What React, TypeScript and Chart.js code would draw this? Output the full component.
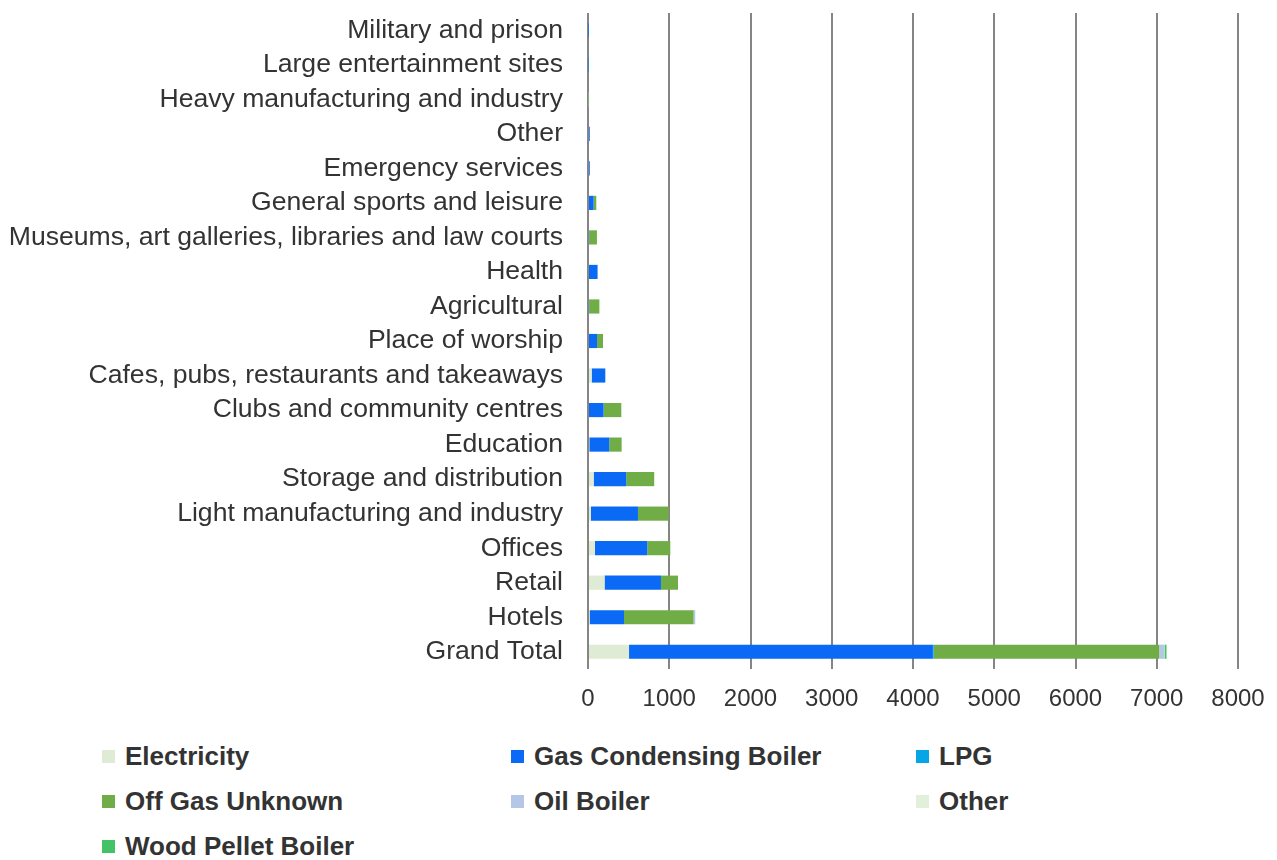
import React, { useEffect, useRef } from "react";
import { Chart, registerables } from "chart.js";

Chart.register(...registerables);

const categories = [
  "Military and prison",
  "Large entertainment sites",
  "Heavy manufacturing and industry",
  "Other",
  "Emergency services",
  "General sports and leisure",
  "Museums, art galleries, libraries and law courts",
  "Health",
  "Agricultural",
  "Place of worship",
  "Cafes, pubs, restaurants and takeaways",
  "Clubs and community centres",
  "Education",
  "Storage and distribution",
  "Light manufacturing and industry",
  "Offices",
  "Retail",
  "Hotels",
  "Grand Total",
];

const electricity = [0, 0, 0, 0, 0, 0, 0, 0, 0, 0, 45, 0, 16, 70, 37, 86, 204, 20, 505];
const gasCondensing = [5, 8, 0, 22, 22, 69, 15, 118, 15, 111, 168, 192, 246, 400, 578, 644, 694, 423, 3740];
const lpg = [3, 4, 0, 0, 0, 0, 0, 0, 0, 0, 0, 0, 0, 0, 0, 0, 0, 0, 10];
const offGasUnknown = [0, 0, 5, 0, 0, 33, 95, 0, 125, 74, 0, 218, 152, 345, 377, 283, 210, 857, 2775];
const oilBoiler = [0, 0, 8, 0, 0, 0, 0, 0, 0, 0, 0, 0, 0, 0, 0, 0, 0, 20, 60];
const otherFuel = [0, 0, 0, 0, 0, 0, 0, 0, 0, 0, 0, 0, 0, 0, 0, 0, 0, 0, 5];
const woodPellet = [0, 0, 0, 0, 0, 0, 0, 0, 0, 0, 0, 0, 0, 0, 0, 0, 0, 0, 25];

const xTicks = [0, 1000, 2000, 3000, 4000, 5000, 6000, 7000, 8000];

const seriesNames = [
  "Electricity",
  "Gas Condensing Boiler",
  "LPG",
  "Off Gas Unknown",
  "Oil Boiler",
  "Other",
  "Wood Pellet Boiler",
];
const seriesColors = ["#DFEBD4", "#0A6AF6", "#06A6E6", "#70AD47", "#B4C7E7", "#E2EFDA", "#43C266"];
const seriesValues = [electricity, gasCondensing, lpg, offGasUnknown, oilBoiler, otherFuel, woodPellet];

const FONT = "'Liberation Sans', Arial, sans-serif";
const TEXT = "#333333";

const legendCols = [102, 511, 916];
const legendRows = [756, 801, 846];

export default function App() {
  const ref = useRef<HTMLCanvasElement | null>(null);

  useEffect(() => {
    if (!ref.current) return;
    const chart = new Chart(ref.current, {
      type: "bar",
      data: {
        labels: categories,
        datasets: seriesNames.map((name, i) => ({
          label: name,
          data: seriesValues[i],
          backgroundColor: seriesColors[i],
          borderWidth: 0,
          barPercentage: 0.41,
          categoryPercentage: 1,
        })),
      },
      options: {
        indexAxis: "y",
        animation: false,
        responsive: false,
        maintainAspectRatio: false,
        layout: { padding: { left: 0, right: 39, top: 13, bottom: 0 } },
        plugins: {
          legend: { display: false },
          tooltip: { enabled: false },
        },
        scales: {
          x: {
            stacked: true,
            min: 0,
            max: 8000,
            afterBuildTicks: (scale: any) => {
              scale.ticks = xTicks.map((v) => ({ value: v }));
            },
            afterFit: (scale: any) => {
              scale.height = 51;
              scale.paddingLeft = 0;
              scale.paddingRight = 0;
            },
            grid: {
              color: "#858585",
              lineWidth: 2,
              drawTicks: false,
            },
            border: { display: false },
            ticks: {
              padding: 16,
              color: TEXT,
              font: { family: FONT, size: 24 },
              maxRotation: 0,
              callback: (v: any) => String(v),
            },
          },
          y: {
            stacked: true,
            afterFit: (scale: any) => {
              scale.width = 588;
              scale.paddingTop = 0;
              scale.paddingBottom = 0;
            },
            grid: { display: false, drawTicks: false },
            border: { display: false },
            ticks: {
              padding: 25,
              color: TEXT,
              autoSkip: false,
              font: { family: FONT, size: 26.6 },
            },
          },
        },
      },
    });
    return () => chart.destroy();
  }, []);

  return (
    <div style={{ position: "absolute", left: 0, top: 0, width: 1277, height: 860, background: "#fff" }}>
      <canvas ref={ref} width={1277} height={720} style={{ display: "block" }} />
      {seriesNames.map((name, i) => {
        const col = i % 3;
        const row = Math.floor(i / 3);
        return (
          <div
            key={name}
            style={{
              position: "absolute",
              left: legendCols[col],
              top: legendRows[row] - 16,
              height: 32,
              display: "flex",
              alignItems: "center",
              fontFamily: FONT,
              fontWeight: "bold",
              fontSize: 26,
              color: TEXT,
              whiteSpace: "nowrap",
            }}
          >
            <span
              style={{
                display: "inline-block",
                width: 13,
                height: 13,
                background: seriesColors[i],
                marginRight: 10,
              }}
            />
            <span>{name}</span>
          </div>
        );
      })}
    </div>
  );
}
